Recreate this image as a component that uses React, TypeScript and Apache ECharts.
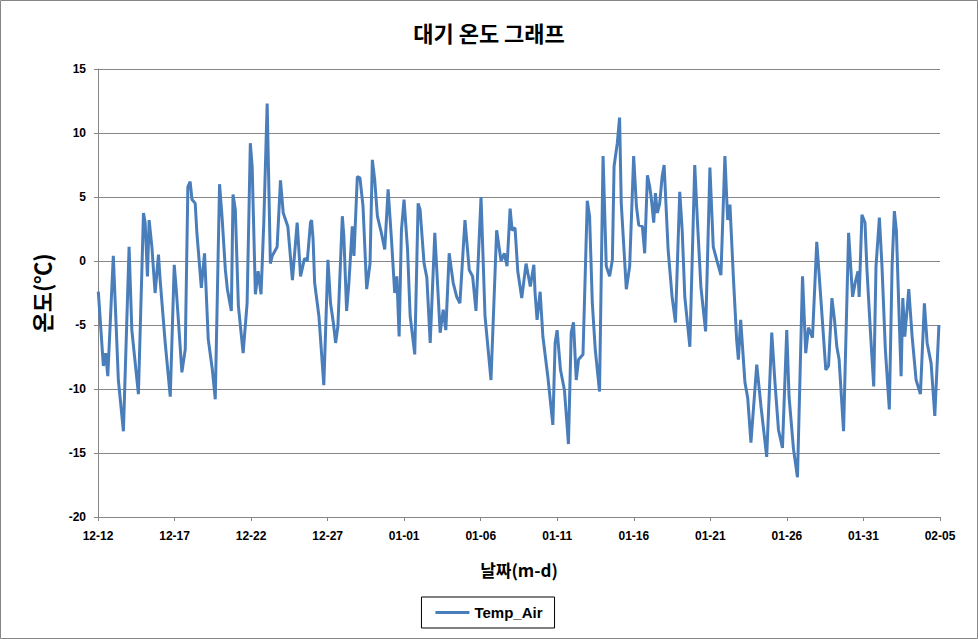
import React, { useEffect, useRef } from "react";
import * as echarts from "echarts";

const chartTitle = "대기 온도 그래프";
const seriesName = "Temp_Air";
const xAxisName = "날짜(m-d)";
const yAxisName = "온도(℃)";
const dateLabels = ["12-12", "12-17", "12-22", "12-27", "01-01", "01-06", "01-11", "01-16", "01-21", "01-26", "01-31", "02-05"];
const yTicks = { min: -20, max: 15, step: 5 };

// days since 12-12 00:00
const days = [
  0.02, 0.35, 0.5, 0.64, 1.0, 1.33, 1.66, 2.03, 2.21, 2.64, 2.97, 3.08, 3.23, 3.34, 3.52, 3.73, 3.95, 4.06, 4.39, 4.72,
  4.98, 5.11, 5.26, 5.48, 5.7, 5.87, 6.02, 6.14, 6.35, 6.46, 6.75, 6.96, 7.2, 7.47, 7.66, 7.94, 8.1, 8.32, 8.45, 8.71,
  8.82, 8.97, 9.17, 9.48, 9.74, 9.95, 10.07, 10.28, 10.46, 10.65, 10.83, 11.05, 11.26, 11.38, 11.7, 11.92, 12.1, 12.4, 12.7, 13.01,
  13.23, 13.49, 13.67, 13.88, 13.95, 14.05, 14.15, 14.43, 14.75, 15.02, 15.19, 15.37, 15.52, 15.67, 15.96, 16.06, 16.24, 16.39, 16.61, 16.72,
  16.94, 17.11, 17.31, 17.55, 17.77, 17.92, 18.07, 18.25, 18.51, 18.73, 18.95, 19.17, 19.38, 19.52, 19.67, 19.82, 19.99, 20.22, 20.39, 20.69,
  20.91, 21.04, 21.3, 21.48, 21.7, 22.0, 22.35, 22.55, 22.72, 22.94, 23.2, 23.43, 23.64, 23.97, 24.25, 24.47, 24.69, 25.02, 25.28, 25.67,
  26.04, 26.33, 26.54, 26.72, 26.92, 27.05, 27.24, 27.42, 27.68, 27.96, 28.24, 28.47, 28.55, 28.68, 28.88, 29.06, 29.38, 29.71, 29.86, 29.99,
  30.21, 30.47, 30.73, 30.91, 31.06, 31.24, 31.39, 31.68, 31.96, 32.11, 32.29, 32.48, 32.76, 32.99, 33.2, 33.42, 33.6, 33.71, 33.92, 34.07,
  34.18, 34.51, 34.73, 34.99, 35.17, 35.32, 35.56, 35.71, 35.89, 36.04, 36.15, 36.3, 36.41, 36.54, 36.69, 36.85, 36.98, 37.24, 37.5, 37.72,
  38.0, 38.16, 38.33, 38.66, 38.98, 39.16, 39.38, 39.69, 39.97, 40.19, 40.41, 40.69, 40.95, 41.13, 41.28, 41.5, 41.72, 41.83, 41.98, 42.26,
  42.44, 42.65, 43.03, 43.31, 43.68, 44.01, 44.22, 44.45, 44.71, 44.99, 45.14, 45.43, 45.69, 46.02, 46.23, 46.41, 46.67, 46.95, 47.22, 47.54,
  47.72, 47.94, 48.11, 48.26, 48.41, 48.7, 49.03, 49.29, 49.46, 49.64, 49.72, 49.9, 50.1, 50.23, 50.45, 50.67, 50.82, 51.04, 51.21, 51.43,
  51.69, 51.87, 52.02, 52.15, 52.31, 52.46, 52.57, 52.7, 52.96, 53.18, 53.44, 53.72, 53.98, 54.16, 54.42, 54.66, 54.93,
];

const temps = [
  -2.4, -8.2, -7.2, -9.0, 0.4, -9.3, -13.3, 1.1, -5.4, -10.4, 3.75, 3.0, -1.2, 3.2, 1.1, -2.5, 0.5, -1.5, -6.4, -10.6,
  -0.3, -2.2, -4.8, -8.7, -6.9, 5.8, 6.2, 4.8, 4.5, 2.2, -2.1, 0.6, -6.1, -8.5, -10.8, 6.0, 3.5, -0.7, -2.2, -3.9,
  5.2, 4.0, -3.5, -7.2, -3.3, 9.2, 7.4, -2.6, -0.8, -2.6, 3.0, 12.3, -0.2, 0.4, 1.1, 6.3, 3.75, 2.7, -1.5, 3.0,
  -1.2, 0.2, 0.0, 3.0, 3.2, 1.7, -1.7, -4.3, -9.7, 0.1, -3.3, -4.8, -6.4, -5.1, 3.5, 1.9, -3.9, -1.7, 2.7, 0.4,
  6.6, 6.5, 4.3, -2.2, -0.2, 7.9, 6.4, 3.5, 2.2, 0.9, 5.6, 1.7, -2.5, -1.2, -5.9, 2.4, 4.8, 0.9, -4.3, -7.3,
  4.5, 4.0, -0.2, -1.3, -6.4, 2.2, -5.6, -3.8, -5.4, 0.6, -1.7, -2.8, -3.3, 3.2, -0.7, -1.2, -3.9, 5.0, -4.3, -9.3,
  2.4, 0.0, 0.6, -0.4, 4.1, 2.4, 2.6, -0.8, -2.9, -0.2, -2.0, -0.3, -2.5, -4.6, -2.4, -5.9, -9.0, -12.8, -6.4, -5.4,
  -8.5, -10.1, -14.3, -5.6, -4.8, -9.3, -7.7, -7.3, 4.7, 3.5, -3.3, -6.9, -10.2, 8.2, -0.4, -1.2, 0.1, 7.4, 9.2, 11.2,
  4.5, -2.2, -0.4, 8.2, 4.3, 2.8, 2.7, 0.6, 6.7, 5.8, 4.8, 3.0, 5.3, 3.75, 4.5, 6.6, 7.5, 0.9, -2.8, -4.8,
  5.4, 2.4, -2.8, -6.7, 7.5, 3.0, -2.0, -5.5, 7.3, 1.1, 0.1, -1.1, 8.2, 3.2, 4.4, -1.2, -6.2, -7.7, -4.6, -9.5,
  -10.7, -14.2, -8.1, -11.4, -15.3, -5.6, -9.5, -13.2, -14.6, -5.4, -10.6, -14.7, -16.9, -1.2, -7.2, -5.2, -6.0, 1.5, -3.0, -8.5,
  -8.2, -2.9, -4.6, -6.7, -7.7, -13.3, 2.2, -2.8, -1.7, -0.8, -2.8, 3.6, 3.0, -0.7, -5.4, -9.8, -0.4, 3.4, -0.4, -6.9,
  -11.6, -0.4, 3.9, 2.4, -3.6, -9.0, -2.9, -5.9, -2.2, -5.9, -9.3, -10.4, -3.3, -6.4, -8.0, -12.1, -5.0,
];

const GRAY = "#868686";
const FONT = "'Liberation Sans', Arial, sans-serif";
const KFONT = "'Noto Sans CJK KR', sans-serif";

export default function App() {
  const ref = useRef<HTMLDivElement>(null);

  useEffect(() => {
    document.body.style.margin = "0";
    if (!ref.current) return;
    const chart = echarts.init(ref.current, null, { renderer: "svg" });
    const data = days.map((d, i) => [d, temps[i]]);
    chart.setOption({
      animation: false,
      backgroundColor: "#ffffff",
      title: {
        text: chartTitle,
        left: "center",
        top: 16,
        textStyle: { fontFamily: KFONT, fontSize: 22, fontWeight: "bold", color: "#000" },
      },
      graphic: [
        {
          type: "rect",
          shape: { x: 0.5, y: 0.5, width: 977, height: 638 },
          style: { fill: "none", stroke: GRAY, lineWidth: 1 },
          silent: true,
        },
      ],
      legend: {
        data: [{ name: seriesName, icon: "rect" }],
        left: "center",
        top: 597,
        itemWidth: 34,
        itemHeight: 3,
        itemGap: 4,
        padding: [8, 12, 8, 14],
        borderColor: "#000",
        borderWidth: 1,
        itemStyle: { color: "#4a7ebb" },
        textStyle: { fontFamily: FONT, fontSize: 15, fontWeight: "bold", color: "#000" },
      },
      grid: { left: 98, top: 69, right: 38, bottom: 122 },
      xAxis: {
        type: "value",
        min: 0,
        max: (dateLabels.length - 1) * 5,
        interval: 5,
        name: xAxisName,
        nameLocation: "middle",
        nameGap: 44,
        nameTextStyle: { fontFamily: KFONT, fontSize: 17, fontWeight: "bold", color: "#000" },
        axisLine: { show: true, onZero: false, lineStyle: { color: GRAY, width: 1 } },
        axisTick: { show: true, length: 4, lineStyle: { color: GRAY } },
        splitLine: { show: false },
        axisLabel: {
          margin: 13,
          fontFamily: FONT,
          fontSize: 12,
          fontWeight: "bold",
          color: "#000",
          formatter: (v: number) => dateLabels[Math.round(v / 5)] ?? "",
        },
      },
      yAxis: {
        type: "value",
        min: yTicks.min,
        max: yTicks.max,
        interval: yTicks.step,
        name: yAxisName,
        nameLocation: "middle",
        nameRotate: 90,
        nameGap: 46,
        nameTextStyle: { fontFamily: KFONT, fontSize: 22, fontWeight: "bold", color: "#000" },
        axisLine: { show: true, lineStyle: { color: GRAY, width: 1 } },
        axisTick: { show: true, length: 4, lineStyle: { color: GRAY } },
        splitLine: { show: true, lineStyle: { color: GRAY, width: 1 } },
        axisLabel: {
          margin: 12,
          fontFamily: FONT,
          fontSize: 12,
          fontWeight: "bold",
          color: "#000",
        },
      },
      series: [
        {
          name: seriesName,
          type: "line",
          data,
          symbol: "none",
          smooth: false,
          lineStyle: { color: "#4a7ebb", width: 3 },
          itemStyle: { color: "#4a7ebb" },
        },
      ],
    });
    return () => chart.dispose();
  }, []);

  return <div ref={ref} style={{ width: 978, height: 639 }} />;
}
